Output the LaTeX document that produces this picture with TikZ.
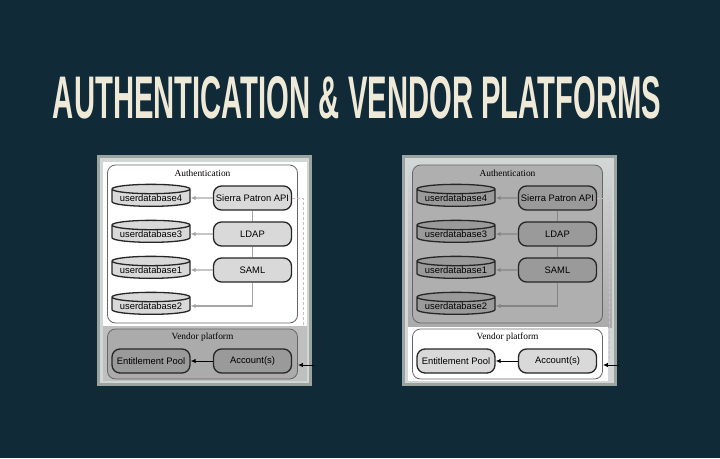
\documentclass[tikz,border=0pt]{standalone}
\usepackage{graphicx}
\usepackage{fontspec}
\setmainfont{Liberation Serif}
\newfontfamily\arialfont{Liberation Sans}
\usetikzlibrary{shapes.geometric,arrows.meta}
\definecolor{SlideBg}{HTML}{102A37}
\definecolor{SlideTitle}{HTML}{EFE9D8}
\definecolor{ShotEdge}{HTML}{9CA4A2}
\definecolor{ShotRim}{HTML}{D2D6D4}
\definecolor{ShotGrey}{HTML}{BDC0BE}
\definecolor{BoxLight}{HTML}{D9D9D9}
\definecolor{BoxMid}{HTML}{AAABAA}
\definecolor{BoxDark}{HTML}{9A9A9A}
\definecolor{LinkGrey}{HTML}{A6A6A6}
\definecolor{LinkDark}{HTML}{858585}
\definecolor{DashGrey}{HTML}{C9BFC2}

\tikzset{
  dbnode/.style={cylinder, shape border rotate=90, aspect=0.15, draw=black!85,
    line width=1.3pt, minimum width=78pt, minimum height=22pt, inner sep=0pt,
    font=\arialfont\fontsize{9.4}{11}\selectfont},
  apinode/.style={rectangle, rounded corners=8pt, draw=black!85, line width=1.3pt,
    minimum width=78pt, minimum height=24pt, inner sep=0pt,
    font=\arialfont\fontsize{9.4}{11}\selectfont},
  groupbox/.style={rectangle, rounded corners=8pt, draw=black!60, line width=0.8pt,
    minimum width=190pt, inner sep=0pt},
  grouptitle/.style={font=\fontsize{9.4}{11}\selectfont},
  linkline/.style={line width=1.1pt},
  linkarrow/.style={linkline, -{Latex[length=5pt,width=4.5pt]}},
  poolarrow/.style={black, line width=1pt, -{Latex[length=5pt,width=4.5pt]}},
  feedline/.style={DashGrey, dash pattern=on 3pt off 2pt, line width=0.8pt},
}

\begin{document}
\begin{tikzpicture}[x=1pt,y=-1pt]
\path[use as bounding box] (0,0) rectangle (720,458);
\fill[SlideBg] (0,0) rectangle (720,458);
\node[SlideTitle, inner sep=0pt] (title) at (357,97.5)
  {\resizebox{608pt}{42pt}{\arialfont\bfseries AUTHENTICATION \& VENDOR PLATFORMS}};

% left shot: authentication in front
\fill[ShotEdge] (97,155) rectangle (312,386);
\fill[ShotRim] (100,158) rectangle (309,383);
\fill[white] (103,162) rectangle (307,326);
\fill[ShotGrey] (103,326) rectangle (307,381);

\node[groupbox, fill=white, minimum height=158pt] (authL) at (202.5,244) {};
\node[grouptitle] (authLt) at (202.5,173) {Authentication};
\node[groupbox, fill=BoxMid, minimum height=50pt] (vendL) at (202.5,354) {};
\node[grouptitle] (vendLt) at (202.5,337) {Vendor platform};

\node[dbnode, fill=BoxLight] (db4L) at (151,198) {userdatabase4};
\node[dbnode, fill=BoxLight] (db3L) at (151,234) {userdatabase3};
\node[dbnode, fill=BoxLight] (db1L) at (151,270) {userdatabase1};
\node[dbnode, fill=BoxLight] (db2L) at (151,306) {userdatabase2};
\node[apinode, fill=BoxLight] (apiL) at (252.5,198) {Sierra Patron API};
\node[apinode, fill=BoxLight] (ldapL) at (252.5,234) {LDAP};
\node[apinode, fill=BoxLight] (samlL) at (252.5,270) {SAML};
\node[apinode, fill=BoxDark] (poolL) at (151,361) {Entitlement Pool};
\node[apinode, fill=BoxDark] (acctL) at (252.5,361) {Account(s)};

\draw[linkarrow, LinkGrey] (apiL) -- (db4L);
\draw[linkarrow, LinkGrey] (ldapL) -- (db3L);
\draw[linkarrow, LinkGrey] (samlL) -- (db1L);
\draw[linkline, LinkGrey] (apiL) -- (ldapL);
\draw[linkline, LinkGrey] (ldapL) -- (samlL);
\draw[linkarrow, LinkGrey] (samlL.south) |- (db2L.east);
\draw[poolarrow] (acctL) -- (poolL);

\coordinate (feedL) at (303,361);
\draw[feedline] (apiL.east) -| (feedL);
\coordinate (inL) at (314,365);
\draw[poolarrow] (inL) -- (inL -| vendL.east);

% right shot: vendor platform in front
\fill[ShotEdge] (402,155) rectangle (617,386);
\fill[ShotRim] (405,158) rectangle (614,383);
\shade[top color=ShotRim, bottom color=BoxMid] (408,162) rectangle (612,327);
\fill[white] (408,327) rectangle (608,381);

\node[groupbox, fill=BoxMid!95!white, minimum height=158pt] (authR) at (507.5,244) {};
\node[grouptitle] (authRt) at (507.5,173) {Authentication};
\node[groupbox, fill=white, minimum height=50pt] (vendR) at (507.5,354) {};
\node[grouptitle] (vendRt) at (507.5,337) {Vendor platform};

\node[dbnode, fill=BoxDark] (db4R) at (456,198) {userdatabase4};
\node[dbnode, fill=BoxDark] (db3R) at (456,234) {userdatabase3};
\node[dbnode, fill=BoxDark] (db1R) at (456,270) {userdatabase1};
\node[dbnode, fill=BoxDark] (db2R) at (456,306) {userdatabase2};
\node[apinode, fill=BoxDark] (apiR) at (557.5,198) {Sierra Patron API};
\node[apinode, fill=BoxDark] (ldapR) at (557.5,234) {LDAP};
\node[apinode, fill=BoxDark] (samlR) at (557.5,270) {SAML};
\node[apinode, fill=BoxLight] (poolR) at (456,361) {Entitlement Pool};
\node[apinode, fill=BoxLight] (acctR) at (557.5,361) {Account(s)};

\draw[linkarrow, LinkDark] (apiR) -- (db4R);
\draw[linkarrow, LinkDark] (ldapR) -- (db3R);
\draw[linkarrow, LinkDark] (samlR) -- (db1R);
\draw[linkline, LinkDark] (apiR) -- (ldapR);
\draw[linkline, LinkDark] (ldapR) -- (samlR);
\draw[linkarrow, LinkDark] (samlR.south) |- (db2R.east);
\draw[poolarrow] (acctR) -- (poolR);

\coordinate (feedR) at (609,361);
\draw[feedline] (apiR.east) -| (feedR);
\coordinate (inR) at (619,365);
\draw[poolarrow] (inR) -- (inR -| vendR.east);
\end{tikzpicture}
\end{document}
